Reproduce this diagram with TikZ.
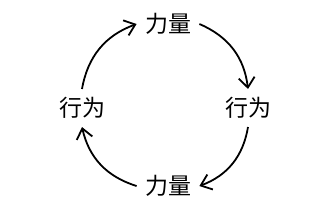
\documentclass[tikz,border=0pt]{standalone}
\usepackage{fontspec}
\newfontfamily\cjk{Noto Sans CJK SC}
\usepackage{tikz}
\usetikzlibrary{arrows.meta}

\begin{document}
\begin{tikzpicture}[x=0.5pt, y=0.5pt, font=\cjk\fontsize{11.5}{13}\selectfont,
    term/.style={inner sep=4pt},
    cycle/.style={-{Straight Barb[length=5pt, width=8pt]}, line width=0.9pt}]
  \useasboundingbox (0,0) rectangle (321,221);
  % Nodes
  \node[term] (force1) at (168,197) {力量};
  \node[term] (act1)   at (248,113) {行为};
  \node[term] (force2) at (168,35)  {力量};
  \node[term] (act2)   at (82,113)  {行为};
  % Arrows
  \draw[cycle] (act2.north) to[bend left=30] (force1.west);
  \draw[cycle] (force1.east) to[bend left=30] (act1.north);
  \draw[cycle] (act1.south) to[bend left=30] (force2.east);
  \draw[cycle] (force2.west) to[bend left=30] (act2.south);
\end{tikzpicture}
\end{document}
